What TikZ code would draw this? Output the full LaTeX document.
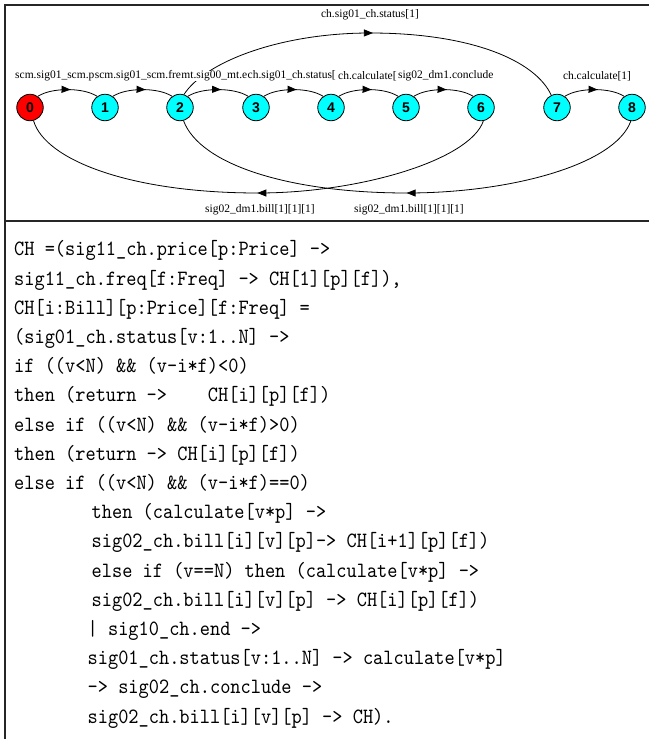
\documentclass[tikz,border=0pt]{standalone}
\usepackage{fontspec}
\setmainfont{Liberation Serif}
\newfontfamily\digitfont{Liberation Sans}
\newfontfamily\codefont[FakeStretch=0.891]{lmmono10-regular.otf}
\usetikzlibrary{arrows.meta,decorations.markings}

\definecolor{startred}{RGB}{255,0,0}
\definecolor{statecyan}{RGB}{0,255,255}

\tikzset{
  st/.style={circle, draw=black, line width=0.8pt, minimum size=26.5pt, inner sep=0pt,
    font=\digitfont\bfseries\fontsize{14}{14}\selectfont},
  start/.style={st, fill=startred},
  plain/.style={st, fill=statecyan},
  lbl/.style={font=\fontsize{11.5}{12}\selectfont, inner sep=0pt, fill=white},
  trans/.style={draw, line width=0.8pt, postaction={decorate},
    decoration={markings, mark=at position #1 with {\arrow{Triangle[length=9pt,width=7pt]}}}},
  trans/.default=0.55,
  codeline/.style={anchor=base west, inner sep=0pt, font=\codefont\fontsize{21.8}{29.2}\selectfont},
  frame/.style={line width=2pt, draw=black!85}
}

\begin{document}
\begin{tikzpicture}[x=1pt,y=-1pt]
\useasboundingbox (0,0) rectangle (649,739);

% frame of the two panels
\draw[frame] (649,5) -- (5,5) -- (5,739);
\draw[frame] (5,220.5) -- (649,220.5);

% states
\node[start] (s0) at (30,107.5) {0};
\node[plain] (s1) at (105,107.5) {1};
\node[plain] (s2) at (180,107.5) {2};
\node[plain] (s3) at (256,107.5) {3};
\node[plain] (s4) at (331,107.5) {4};
\node[plain] (s5) at (406,107.5) {5};
\node[plain] (s6) at (481,107.5) {6};
\node[plain] (s7) at (557,107.5) {7};
\node[plain] (s8) at (632,107.5) {8};

% forward transitions along the row
\foreach \a/\b in {s0/s1, s1/s2, s2/s3, s3/s4, s4/s5, s5/s6, s7/s8}
  \draw[trans] (\a.55) .. controls +(14,-9) and +(-14,-9) .. (\b.125);

% long transition 2 -> 7 over the top
\coordinate (top27) at (370,33);
\draw[trans=0.51] (s2.73) .. controls (205,62) and (280,33) .. (top27)
  .. controls (470,33) and (535,60) .. (s7.115);

% return transitions below the row
\coordinate (low60) at (258,193);
\draw[trans=0.5] (s6.-80) .. controls (470,160) and (360,193) .. (low60)
  .. controls (130,193) and (45,160) .. (s0.-75);
\coordinate (low82) at (407,193);
\draw[trans=0.5] (s8.-95) .. controls (615,165) and (510,193) .. (low82)
  .. controls (290,193) and (200,165) .. (s2.-75);

% transition labels (the row labels run into each other)
\node[lbl, anchor=west] (l01) at (15,76) {scm.sig01\_scm.p};
\node[lbl, anchor=west] (l12) at (l01.east) {scm.sig01\_scm.fre};
\node[lbl, anchor=west] (l23) at (l12.east) {mt.sig00\_mt.e};
\node[lbl, anchor=west] (l34) at (l23.east) {ch.sig01\_ch.status[};
\node[lbl, anchor=west] (l45) at ([xshift=2pt]l34.east) {ch.calculate[};
\node[lbl, anchor=west] (l56) at ([xshift=1pt]l45.east) {sig02\_dm1.conclude};
\node[lbl] (l78) at (597,76) {ch.calculate[1]};
\node[lbl] (l27) at (370,15) {ch.sig01\_ch.status[1]};
\node[lbl] (l60) at (260,210) {sig02\_dm1.bill[1][1][1]};
\node[lbl] (l82) at (409,210) {sig02\_dm1.bill[1][1][1]};

% process definition
\node[codeline] (c1) at (14,255.9) {CH =(sig11\_ch.price[p:Price] ->};
\node[codeline] (c2) at (14,285.1) {sig11\_ch.freq[f:Freq] -> CH[1][p][f]),};
\node[codeline] (c3) at (14,314.3) {CH[i:Bill][p:Price][f:Freq] =};
\node[codeline] (c4) at (14,343.5) {(sig01\_ch.status[v:1..N] ->};
\node[codeline] (c5) at (14,372.7) {if ((v<N) \&\& (v-i*f)<0)};
\node[codeline] (c6) at (14,401.9) {then (return ->\ \ \ \ CH[i][p][f])};
\node[codeline] (c7) at (14,431.1) {else if ((v<N) \&\& (v-i*f)>0)};
\node[codeline] (c8) at (14,460.3) {then (return -> CH[i][p][f])};
\node[codeline] (c9) at (14,489.5) {else if ((v<N) \&\& (v-i*f)==0)};
\node[codeline] (c10) at (91.5,518.7) {then (calculate[v*p] ->};
\node[codeline] (c11) at (91.5,547.9) {sig02\_ch.bill[i][v][p]-> CH[i+1][p][f])};
\node[codeline] (c12) at (91.5,577.1) {else if (v==N) then (calculate[v*p] ->};
\node[codeline] (c13) at (91.5,606.3) {sig02\_ch.bill[i][v][p] -> CH[i][p][f])};
\node[codeline] (c14) at (87.5,635.5) {| sig10\_ch.end ->};
\node[codeline] (c15) at (87.5,664.7) {sig01\_ch.status[v:1..N] -> calculate[v*p]};
\node[codeline] (c16) at (87.5,693.9) {-> sig02\_ch.conclude ->};
\node[codeline] (c17) at (87.5,723.1) {sig02\_ch.bill[i][v][p] -> CH).};
\end{tikzpicture}
\end{document}
